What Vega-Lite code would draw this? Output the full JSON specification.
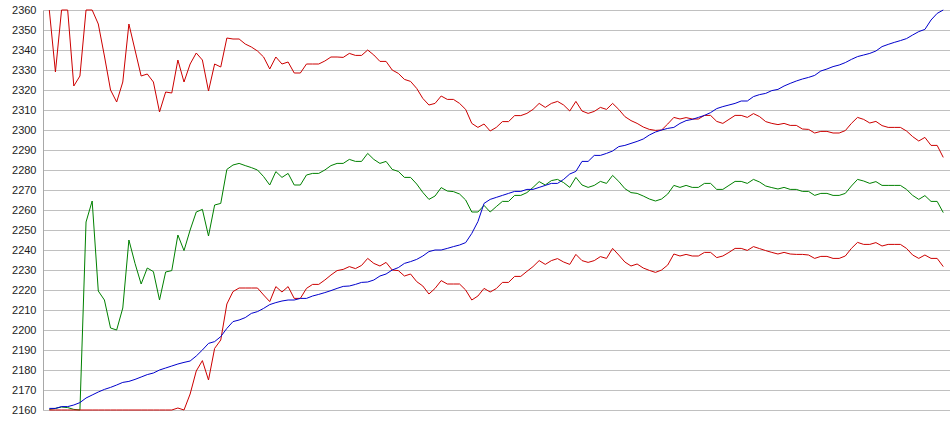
{
"$schema": "https://vega.github.io/schema/vega-lite/v6.json",
"autosize": {"type": "none"},
"padding": {"left": 43, "top": 10, "right": 0, "bottom": 25},
"width": 907,
"height": 400,
"background": "white",
"config": {"view": {"stroke": null}},
"data": {"values": [
{"k":0,"b":2160.8,"g":2160.3,"u":2360,"l":2160},
{"k":1,"b":2160.8,"g":2160.8,"u":2329,"l":2160},
{"k":2,"b":2161.7,"g":2161.5,"u":2360,"l":2160},
{"k":3,"b":2161.7,"g":2161.2,"u":2360,"l":2160},
{"k":4,"b":2162.5,"g":2160.3,"u":2322,"l":2160},
{"k":5,"b":2163.7,"g":2160,"u":2327,"l":2160},
{"k":6,"b":2166,"g":2254,"u":2360,"l":2160},
{"k":7,"b":2167.5,"g":2264.5,"u":2360,"l":2160},
{"k":8,"b":2169,"g":2219.5,"u":2353,"l":2160},
{"k":9,"b":2170.3,"g":2215,"u":2337,"l":2160},
{"k":10,"b":2171.3,"g":2201,"u":2320,"l":2160},
{"k":11,"b":2172.5,"g":2200,"u":2314,"l":2160},
{"k":12,"b":2173.8,"g":2211,"u":2324,"l":2160},
{"k":13,"b":2174.3,"g":2245,"u":2353,"l":2160},
{"k":14,"b":2175.3,"g":2233.3,"u":2340,"l":2160},
{"k":15,"b":2176.5,"g":2223,"u":2327,"l":2160},
{"k":16,"b":2177.7,"g":2231,"u":2328,"l":2160},
{"k":17,"b":2178.5,"g":2229.2,"u":2324,"l":2160},
{"k":18,"b":2180,"g":2215,"u":2309,"l":2160},
{"k":19,"b":2181,"g":2229,"u":2319,"l":2160},
{"k":20,"b":2182,"g":2229.7,"u":2318.5,"l":2160},
{"k":21,"b":2183,"g":2247.5,"u":2335,"l":2161},
{"k":22,"b":2183.8,"g":2239.7,"u":2324,"l":2160},
{"k":23,"b":2184.5,"g":2250,"u":2333,"l":2168},
{"k":24,"b":2187,"g":2259,"u":2338.5,"l":2179.5},
{"k":25,"b":2190,"g":2260.3,"u":2335,"l":2184.7},
{"k":26,"b":2193.3,"g":2247,"u":2319.5,"l":2175},
{"k":27,"b":2194.2,"g":2262.5,"u":2333,"l":2190.8},
{"k":28,"b":2196.7,"g":2263.3,"u":2331.5,"l":2195},
{"k":29,"b":2200.8,"g":2280.3,"u":2346,"l":2213},
{"k":30,"b":2204.2,"g":2282.5,"u":2345.5,"l":2219.2},
{"k":31,"b":2205,"g":2283.3,"u":2345.5,"l":2221},
{"k":32,"b":2206.2,"g":2282.2,"u":2343,"l":2221},
{"k":33,"b":2208.3,"g":2281.2,"u":2341.5,"l":2221},
{"k":34,"b":2209.2,"g":2280,"u":2339.5,"l":2221},
{"k":35,"b":2210.8,"g":2276.7,"u":2336.5,"l":2217.5},
{"k":36,"b":2212.7,"g":2272.5,"u":2330.5,"l":2214.2},
{"k":37,"b":2213.7,"g":2279.2,"u":2336.5,"l":2221.7},
{"k":38,"b":2214.5,"g":2276.3,"u":2333,"l":2219},
{"k":39,"b":2215,"g":2278.3,"u":2334,"l":2221.7},
{"k":40,"b":2215,"g":2272.5,"u":2328.5,"l":2215.8},
{"k":41,"b":2215.8,"g":2272.5,"u":2328.5,"l":2215.8},
{"k":42,"b":2215.8,"g":2277.5,"u":2333,"l":2220.8},
{"k":43,"b":2217,"g":2278.3,"u":2333,"l":2222.8},
{"k":44,"b":2217.8,"g":2278.3,"u":2333,"l":2222.8},
{"k":45,"b":2218.7,"g":2280,"u":2334.5,"l":2225},
{"k":46,"b":2219.7,"g":2282.2,"u":2336.5,"l":2227.5},
{"k":47,"b":2220.8,"g":2283.3,"u":2336.5,"l":2229.7},
{"k":48,"b":2221.8,"g":2283.3,"u":2336.3,"l":2230.3},
{"k":49,"b":2222,"g":2285.3,"u":2338.3,"l":2231.7},
{"k":50,"b":2222.8,"g":2284.3,"u":2337.3,"l":2230.7},
{"k":51,"b":2223.8,"g":2284.3,"u":2337.3,"l":2232.3},
{"k":52,"b":2224,"g":2288.3,"u":2340,"l":2235.8},
{"k":53,"b":2225,"g":2285.3,"u":2337.5,"l":2233.3},
{"k":54,"b":2227,"g":2283.3,"u":2334.3,"l":2232},
{"k":55,"b":2228,"g":2284.3,"u":2334.3,"l":2233.8},
{"k":56,"b":2230,"g":2280.3,"u":2330,"l":2230},
{"k":57,"b":2231.2,"g":2279.3,"u":2328.3,"l":2229.7},
{"k":58,"b":2233.3,"g":2276.3,"u":2325.3,"l":2227},
{"k":59,"b":2234.2,"g":2276.3,"u":2324.3,"l":2228},
{"k":60,"b":2235.3,"g":2273,"u":2320.8,"l":2224.2},
{"k":61,"b":2237,"g":2268.8,"u":2315.8,"l":2222},
{"k":62,"b":2239.2,"g":2265.3,"u":2312.5,"l":2218},
{"k":63,"b":2240,"g":2267,"u":2313.3,"l":2220.8},
{"k":64,"b":2240,"g":2271.2,"u":2317,"l":2224.7},
{"k":65,"b":2240.8,"g":2269.5,"u":2315.3,"l":2223},
{"k":66,"b":2241.7,"g":2269.2,"u":2315.3,"l":2223},
{"k":67,"b":2242.5,"g":2268,"u":2313.3,"l":2223},
{"k":68,"b":2243.7,"g":2265,"u":2310.3,"l":2220},
{"k":69,"b":2248.3,"g":2259,"u":2303.3,"l":2215},
{"k":70,"b":2254.2,"g":2259,"u":2301.3,"l":2217},
{"k":71,"b":2263.3,"g":2262.3,"u":2303,"l":2220.8},
{"k":72,"b":2265.3,"g":2259,"u":2299.5,"l":2219},
{"k":73,"b":2266.3,"g":2261.7,"u":2301.3,"l":2220.7},
{"k":74,"b":2267.3,"g":2264.3,"u":2304.2,"l":2223.8},
{"k":75,"b":2268.3,"g":2264.3,"u":2304.2,"l":2223.8},
{"k":76,"b":2269.3,"g":2267.3,"u":2307.2,"l":2226.8},
{"k":77,"b":2269.3,"g":2267.3,"u":2307.2,"l":2226.8},
{"k":78,"b":2270.3,"g":2268.7,"u":2308.3,"l":2229.3},
{"k":79,"b":2270.3,"g":2271.3,"u":2310.3,"l":2231.7},
{"k":80,"b":2271.3,"g":2274.2,"u":2313.3,"l":2234.7},
{"k":81,"b":2272.3,"g":2272.5,"u":2311.3,"l":2232.8},
{"k":82,"b":2273.3,"g":2274.7,"u":2313.3,"l":2234.7},
{"k":83,"b":2273.3,"g":2275.3,"u":2314.3,"l":2235.7},
{"k":84,"b":2275.3,"g":2273.7,"u":2312.5,"l":2234},
{"k":85,"b":2278,"g":2271.3,"u":2309.5,"l":2232.8},
{"k":86,"b":2279.3,"g":2276.3,"u":2314.3,"l":2237.8},
{"k":87,"b":2284.3,"g":2272.5,"u":2309.5,"l":2234.7},
{"k":88,"b":2284.3,"g":2271.3,"u":2308.3,"l":2233.8},
{"k":89,"b":2287.3,"g":2272.3,"u":2309.3,"l":2234.7},
{"k":90,"b":2287.3,"g":2274.3,"u":2311.3,"l":2236.7},
{"k":91,"b":2288.3,"g":2273.3,"u":2310.3,"l":2235.8},
{"k":92,"b":2289.5,"g":2277.3,"u":2313.3,"l":2240.8},
{"k":93,"b":2291.7,"g":2274.3,"u":2310.3,"l":2237.5},
{"k":94,"b":2292.3,"g":2270.7,"u":2306.7,"l":2234},
{"k":95,"b":2293.3,"g":2268.7,"u":2304.7,"l":2232},
{"k":96,"b":2294.3,"g":2268.3,"u":2303.3,"l":2233},
{"k":97,"b":2295.5,"g":2267,"u":2301.5,"l":2231},
{"k":98,"b":2297.5,"g":2265.5,"u":2300.3,"l":2229.8},
{"k":99,"b":2299,"g":2264.5,"u":2299.8,"l":2228.8},
{"k":100,"b":2300,"g":2265.5,"u":2300,"l":2230},
{"k":101,"b":2300.8,"g":2268,"u":2303,"l":2232.5},
{"k":102,"b":2301.3,"g":2272.3,"u":2306.3,"l":2238},
{"k":103,"b":2303.3,"g":2271.3,"u":2305.5,"l":2237},
{"k":104,"b":2304.7,"g":2272.3,"u":2306.2,"l":2237.8},
{"k":105,"b":2305.3,"g":2271.3,"u":2305.5,"l":2237},
{"k":106,"b":2306.3,"g":2271.3,"u":2305.5,"l":2237},
{"k":107,"b":2307.3,"g":2273.3,"u":2307.3,"l":2238.8},
{"k":108,"b":2308.7,"g":2273.3,"u":2307.3,"l":2238.8},
{"k":109,"b":2310.7,"g":2270.3,"u":2304.3,"l":2236.2},
{"k":110,"b":2311.7,"g":2270.3,"u":2303.3,"l":2237},
{"k":111,"b":2312.5,"g":2272.3,"u":2305.3,"l":2238.8},
{"k":112,"b":2313.3,"g":2274.3,"u":2307.3,"l":2240.8},
{"k":113,"b":2314.5,"g":2274.3,"u":2307.3,"l":2240.8},
{"k":114,"b":2314.5,"g":2273.3,"u":2306.3,"l":2239.8},
{"k":115,"b":2316.7,"g":2275.3,"u":2308.2,"l":2241.7},
{"k":116,"b":2317.7,"g":2274,"u":2306.7,"l":2240.7},
{"k":117,"b":2318.3,"g":2272,"u":2304.2,"l":2239.7},
{"k":118,"b":2319.7,"g":2271.2,"u":2303.3,"l":2238.8},
{"k":119,"b":2320.3,"g":2270.5,"u":2302.7,"l":2238},
{"k":120,"b":2322,"g":2271.3,"u":2303.3,"l":2238.8},
{"k":121,"b":2323.3,"g":2270.3,"u":2302.3,"l":2238},
{"k":122,"b":2324.5,"g":2270.3,"u":2302.3,"l":2237.8},
{"k":123,"b":2325.5,"g":2269.3,"u":2300.5,"l":2237.8},
{"k":124,"b":2326.3,"g":2269.3,"u":2300.3,"l":2237.5},
{"k":125,"b":2327.3,"g":2267.3,"u":2298.5,"l":2235.8},
{"k":126,"b":2329.5,"g":2268.3,"u":2299.3,"l":2236.8},
{"k":127,"b":2330.5,"g":2268.3,"u":2299.3,"l":2236.8},
{"k":128,"b":2331.7,"g":2267.3,"u":2298.5,"l":2235.8},
{"k":129,"b":2332.5,"g":2267.3,"u":2298.5,"l":2235.8},
{"k":130,"b":2333.7,"g":2268.3,"u":2299.7,"l":2237},
{"k":131,"b":2335.3,"g":2272,"u":2303.3,"l":2240.8},
{"k":132,"b":2336.7,"g":2275.3,"u":2306.3,"l":2243.8},
{"k":133,"b":2337.5,"g":2274.5,"u":2305.3,"l":2242.8},
{"k":134,"b":2338.3,"g":2273.3,"u":2303.5,"l":2242.8},
{"k":135,"b":2339.5,"g":2274.2,"u":2304.3,"l":2243.7},
{"k":136,"b":2341.7,"g":2272.3,"u":2302.2,"l":2242},
{"k":137,"b":2342.8,"g":2272.3,"u":2301.3,"l":2242.8},
{"k":138,"b":2343.8,"g":2272.3,"u":2301.3,"l":2242.8},
{"k":139,"b":2344.7,"g":2272.3,"u":2301.3,"l":2242.8},
{"k":140,"b":2345.7,"g":2270.3,"u":2299.5,"l":2240.8},
{"k":141,"b":2347.5,"g":2267.3,"u":2296.7,"l":2237.5},
{"k":142,"b":2349.2,"g":2265.3,"u":2294.5,"l":2235.8},
{"k":143,"b":2350.3,"g":2267.2,"u":2296.3,"l":2237.5},
{"k":144,"b":2355,"g":2264.3,"u":2292.3,"l":2235.8},
{"k":145,"b":2358.3,"g":2264.3,"u":2292.3,"l":2235.8},
{"k":146,"b":2360,"g":2258.7,"u":2286.3,"l":2231.7}
]},
"transform": [{"fold": ["u", "g", "l", "b"], "as": ["series", "value"]}],
"mark": {"type": "line", "strokeWidth": 1, "interpolate": "linear"},
"encoding": {
  "x": {"field": "k", "type": "quantitative", "scale": {"domain": [-1.03, 147.1], "nice": false, "zero": false}, "axis": null},
  "y": {"field": "value", "type": "quantitative",
        "scale": {"domain": [2160, 2360], "nice": false, "zero": false},
        "axis": {"values": [2160,2170,2180,2190,2200,2210,2220,2230,2240,2250,2260,2270,2280,2290,2300,2310,2320,2330,2340,2350,2360],
                 "format": "d",
                 "grid": true, "gridColor": "#c0c0c0", "gridWidth": 1, "gridOpacity": 1,
                 "domain": true, "domainColor": "#a8a8a8", "domainWidth": 1,
                 "ticks": false, "labelPadding": 7, "labelFont": "Liberation Sans", "labelFontSize": 11,
                 "labelColor": "#222222", "title": null}},
  "color": {"field": "series", "type": "nominal",
            "scale": {"domain": ["u", "g", "l", "b"], "range": ["#cc0000", "#008000", "#cc0000", "#0000cc"]},
            "legend": null}
}
}
